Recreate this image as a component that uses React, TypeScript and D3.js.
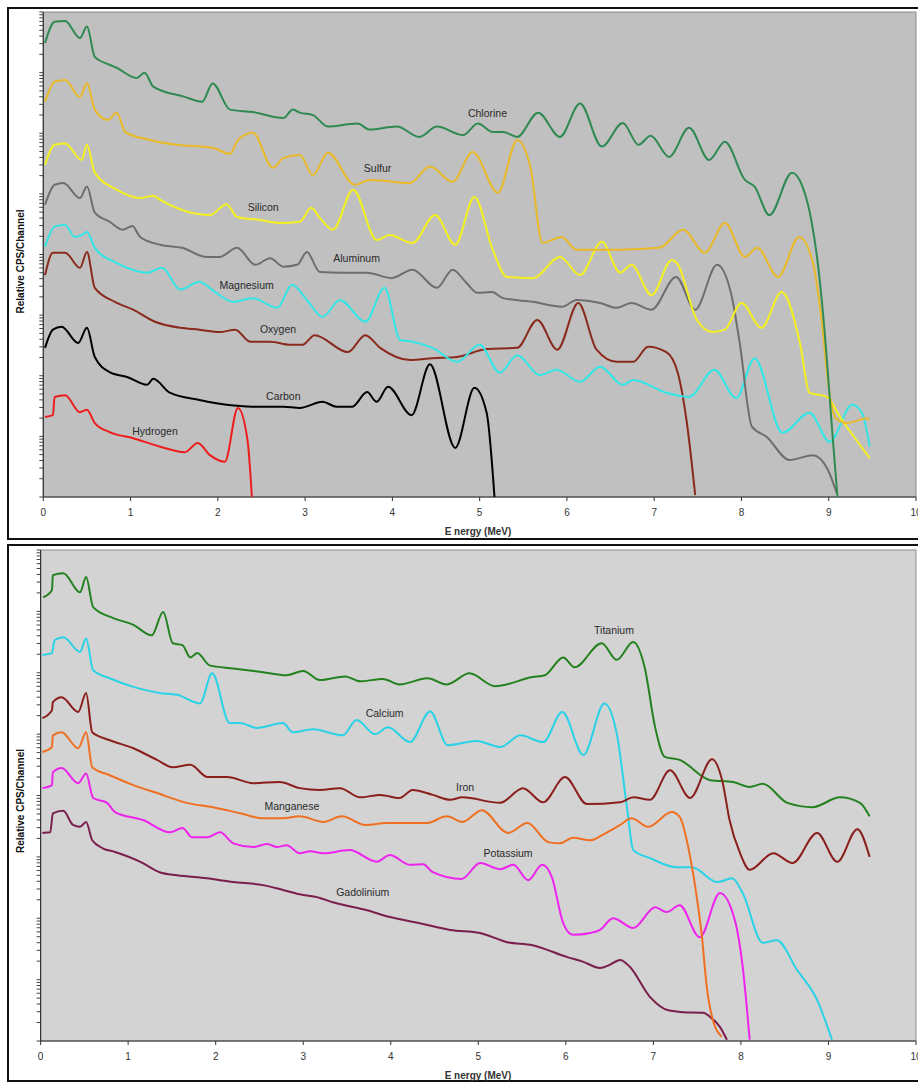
import React from "react";
import * as d3 from "d3";

// each point: [energy in MeV, log10 of relative CPS/channel]
type Pt = [number, number];

const energyTicks = [0, 1, 2, 3, 4, 5, 6, 7, 8, 9, 10];
const decades = [0, 1, 2, 3, 4, 5, 6, 7, 8];

// ---- upper panel ----
const chlorine: Pt[] = [[0.02,7.49],[0.13,7.84],[0.25,7.85],[0.42,7.57],[0.5,7.76],[0.59,7.26],[0.76,7.13],[0.84,7.08],[1.07,6.91],[1.16,7.0],[1.26,6.77],[1.62,6.6],[1.82,6.52],[1.94,6.82],[2.14,6.39],[2.4,6.35],[2.75,6.25],[2.86,6.39],[2.94,6.34],[3.09,6.3],[3.26,6.11],[3.6,6.16],[3.74,6.06],[4.05,6.11],[4.31,5.94],[4.51,6.11],[4.81,5.97],[4.98,6.16],[5.15,6.02],[5.27,6.02],[5.43,5.94],[5.67,6.34],[5.92,5.94],[6.15,6.49],[6.4,5.78],[6.64,6.17],[6.82,5.81],[6.96,5.96],[7.17,5.61],[7.4,6.09],[7.63,5.56],[7.81,5.86],[8.04,5.23],[8.15,5.12],[8.32,4.65],[8.58,5.35],[8.7,5.12],[8.8,4.57],[8.87,3.91],[8.97,2.43],[9.03,1.27],[9.1,0]];
const sulfur: Pt[] = [[0.02,6.52],[0.13,6.85],[0.25,6.88],[0.42,6.6],[0.5,6.83],[0.59,6.39],[0.74,6.22],[0.84,6.34],[0.94,6.02],[1.22,5.89],[1.53,5.81],[1.94,5.76],[2.14,5.66],[2.23,5.89],[2.4,6.01],[2.63,5.43],[2.75,5.59],[2.94,5.64],[3.09,5.31],[3.26,5.68],[3.57,5.15],[3.74,5.23],[4.2,5.18],[4.43,5.45],[4.69,5.2],[4.92,5.69],[5.21,5.02],[5.43,5.89],[5.58,5.45],[5.72,4.19],[5.94,4.29],[6.11,4.08],[6.61,4.08],[7.06,4.11],[7.33,4.41],[7.58,4.03],[7.81,4.52],[8.04,3.96],[8.18,4.11],[8.42,3.63],[8.66,4.29],[8.82,3.86],[8.92,2.9],[9.0,1.8],[9.08,1.3],[9.21,1.22],[9.44,1.3],[9.46,1.27]];
const silicon: Pt[] = [[0.02,5.48],[0.13,5.81],[0.25,5.83],[0.44,5.56],[0.5,5.81],[0.59,5.35],[0.84,5.07],[1.11,4.93],[1.26,4.97],[1.34,4.9],[1.91,4.65],[2.1,4.83],[2.22,4.62],[2.48,4.57],[2.71,4.52],[2.94,4.54],[3.07,4.77],[3.17,4.6],[3.32,4.41],[3.55,5.07],[3.82,4.24],[3.97,4.32],[4.23,4.19],[4.49,4.65],[4.72,4.16],[4.94,4.95],[5.15,4.08],[5.31,3.63],[5.61,3.61],[5.92,3.96],[6.15,3.66],[6.4,4.21],[6.61,3.7],[6.74,3.83],[6.97,3.33],[7.2,3.91],[7.26,3.86],[7.49,2.92],[7.67,2.72],[7.81,2.76],[8.0,3.2],[8.23,2.79],[8.46,3.38],[8.67,2.54],[8.78,1.72],[8.98,1.65],[9.13,1.32],[9.47,0.64]];
const aluminum: Pt[] = [[0.02,4.82],[0.13,5.15],[0.23,5.18],[0.42,4.93],[0.5,5.12],[0.59,4.69],[0.76,4.54],[0.91,4.41],[1.02,4.47],[1.11,4.29],[1.34,4.16],[1.59,4.11],[1.87,3.96],[2.02,3.96],[2.22,4.11],[2.43,3.83],[2.6,3.94],[2.75,3.8],[2.91,3.83],[3.02,4.04],[3.17,3.71],[3.43,3.7],[3.71,3.7],[3.99,3.61],[4.23,3.75],[4.51,3.45],[4.69,3.75],[4.85,3.53],[4.97,3.37],[5.14,3.38],[5.27,3.28],[5.61,3.22],[5.95,3.14],[6.11,3.25],[6.38,3.2],[6.57,3.12],[6.74,3.2],[6.97,3.09],[7.25,3.63],[7.47,3.09],[7.72,3.83],[7.89,3.3],[7.98,2.54],[8.12,1.16],[8.29,0.99],[8.55,0.61],[8.82,0.69],[8.99,0.45],[9.09,0.07]];
const magnesium: Pt[] = [[0.02,4.13],[0.13,4.46],[0.25,4.49],[0.36,4.29],[0.44,4.32],[0.5,4.37],[0.59,4.11],[0.84,3.86],[1.19,3.7],[1.36,3.78],[1.57,3.42],[1.79,3.55],[1.97,3.38],[2.17,3.22],[2.4,3.28],[2.68,3.12],[2.85,3.5],[3.02,3.25],[3.2,2.97],[3.4,3.25],[3.69,2.89],[3.91,3.45],[4.09,2.59],[4.23,2.56],[4.46,2.46],[4.74,2.23],[5.0,2.51],[5.23,2.05],[5.43,2.34],[5.69,2.01],[5.88,2.1],[6.15,1.9],[6.38,2.15],[6.64,1.85],[6.76,1.93],[7.14,1.72],[7.4,1.65],[7.69,2.1],[7.94,1.63],[8.15,2.29],[8.47,1.06],[8.78,1.39],[9.01,0.91],[9.27,1.52],[9.38,1.39],[9.47,0.83]];
const oxygen: Pt[] = [[0.02,3.66],[0.11,4.03],[0.25,4.03],[0.42,3.78],[0.5,4.04],[0.59,3.45],[0.82,3.22],[1.03,3.09],[1.28,2.89],[1.57,2.79],[1.79,2.76],[2.02,2.72],[2.2,2.76],[2.37,2.56],[2.6,2.56],[2.83,2.51],[2.97,2.51],[3.11,2.67],[3.49,2.39],[3.69,2.67],[3.86,2.46],[4.2,2.26],[4.46,2.29],[4.74,2.31],[5.08,2.44],[5.43,2.46],[5.66,2.92],[5.89,2.43],[6.13,3.2],[6.34,2.43],[6.57,2.23],[6.76,2.23],[6.93,2.48],[7.14,2.39],[7.27,2.05],[7.37,1.27],[7.47,0.03]];
const carbon: Pt[] = [[0.02,2.46],[0.11,2.76],[0.21,2.81],[0.4,2.54],[0.5,2.79],[0.59,2.31],[0.76,2.06],[0.96,1.98],[1.19,1.85],[1.26,1.95],[1.45,1.72],[1.79,1.6],[2.1,1.52],[2.4,1.49],[2.75,1.49],[2.94,1.47],[3.2,1.57],[3.36,1.49],[3.54,1.49],[3.71,1.73],[3.82,1.57],[3.95,1.82],[4.22,1.35],[4.43,2.19],[4.72,0.81],[4.94,1.8],[5.08,1.39],[5.17,0]];
const hydrogen: Pt[] = [[0.02,1.32],[0.11,1.35],[0.13,1.65],[0.25,1.68],[0.42,1.4],[0.5,1.44],[0.59,1.22],[0.76,1.07],[1.03,0.97],[1.34,0.83],[1.62,0.74],[1.77,0.89],[1.91,0.69],[2.08,0.58],[2.23,1.47],[2.34,0.94],[2.39,0]];

// ---- lower panel ----
const titanium: Pt[] = [[0.03,7.23],[0.13,7.35],[0.14,7.59],[0.26,7.62],[0.45,7.31],[0.52,7.56],[0.6,7.07],[0.83,6.89],[1.06,6.78],[1.27,6.61],[1.4,6.99],[1.51,6.48],[1.62,6.45],[1.71,6.25],[1.79,6.32],[1.93,6.12],[2.2,6.07],[2.54,6.01],[2.81,5.96],[3.0,6.03],[3.19,5.88],[3.48,5.94],[3.65,5.86],[3.91,5.9],[4.1,5.81],[4.42,5.91],[4.64,5.81],[4.9,5.99],[5.19,5.78],[5.62,5.93],[5.76,5.96],[5.97,6.25],[6.1,6.09],[6.41,6.48],[6.58,6.21],[6.77,6.5],[6.9,6.09],[7.02,5.11],[7.13,4.63],[7.3,4.58],[7.65,4.25],[7.91,4.22],[8.1,4.14],[8.25,4.19],[8.53,3.88],[8.82,3.81],[9.13,3.97],[9.36,3.88],[9.47,3.66]];
const calcium: Pt[] = [[0.02,6.29],[0.13,6.32],[0.16,6.53],[0.26,6.58],[0.45,6.34],[0.52,6.56],[0.6,6.04],[0.79,5.91],[1.06,5.77],[1.36,5.67],[1.56,5.64],[1.82,5.5],[1.96,5.99],[2.16,5.18],[2.28,5.18],[2.47,5.1],[2.77,5.18],[2.88,5.03],[3.11,5.08],[3.45,4.98],[3.61,5.23],[3.82,5.0],[3.97,5.11],[4.22,4.87],[4.45,5.37],[4.65,4.82],[4.98,4.89],[5.25,4.79],[5.48,4.98],[5.74,4.87],[5.96,5.36],[6.2,4.66],[6.44,5.5],[6.58,5.02],[6.7,3.79],[6.77,3.11],[6.96,2.98],[7.27,2.83],[7.44,2.83],[7.73,2.59],[7.9,2.65],[8.02,2.41],[8.25,1.6],[8.41,1.64],[8.64,1.16],[8.87,0.67],[9.04,0.02]];
const iron: Pt[] = [[0.02,5.26],[0.13,5.39],[0.14,5.52],[0.24,5.6],[0.43,5.36],[0.52,5.67],[0.59,5.03],[0.79,4.9],[1.06,4.77],[1.33,4.58],[1.51,4.46],[1.71,4.5],[1.91,4.3],[2.13,4.3],[2.43,4.2],[2.73,4.22],[2.96,4.12],[3.19,4.09],[3.42,4.12],[3.65,3.97],[3.88,4.01],[4.1,3.96],[4.25,4.09],[4.48,4.01],[4.68,3.93],[4.82,3.97],[5.25,3.88],[5.51,4.12],[5.74,3.89],[5.99,4.3],[6.24,3.86],[6.62,3.89],[6.77,3.97],[6.96,3.93],[7.19,4.41],[7.42,3.96],[7.67,4.59],[7.79,4.22],[7.87,3.6],[7.99,3.06],[8.1,2.79],[8.37,3.06],[8.59,2.9],[8.87,3.39],[9.1,2.92],[9.33,3.45],[9.47,3.0]];
const manganese: Pt[] = [[0.02,4.71],[0.13,4.79],[0.14,4.98],[0.24,5.03],[0.43,4.77],[0.52,5.03],[0.59,4.46],[0.79,4.33],[1.06,4.17],[1.33,4.04],[1.67,3.88],[1.97,3.81],[2.28,3.71],[2.54,3.63],[2.77,3.63],[2.96,3.66],[3.23,3.57],[3.44,3.66],[3.71,3.52],[3.96,3.55],[4.41,3.55],[4.64,3.66],[4.82,3.57],[5.04,3.76],[5.34,3.39],[5.56,3.55],[5.8,3.24],[5.93,3.22],[6.08,3.31],[6.28,3.27],[6.42,3.36],[6.62,3.52],[6.75,3.63],[6.94,3.49],[7.21,3.73],[7.3,3.65],[7.42,3.0],[7.5,2.3],[7.55,1.76],[7.61,0.88],[7.67,0.39],[7.78,0.07]];
const potassium: Pt[] = [[0.02,4.12],[0.13,4.17],[0.14,4.38],[0.24,4.45],[0.43,4.2],[0.52,4.36],[0.6,3.96],[0.76,3.88],[0.85,3.73],[1.17,3.6],[1.48,3.4],[1.62,3.47],[1.73,3.32],[1.9,3.32],[2.05,3.4],[2.2,3.22],[2.43,3.16],[2.59,3.21],[2.7,3.16],[2.81,3.19],[2.96,3.06],[3.08,3.09],[3.23,3.06],[3.53,3.11],[3.84,2.92],[3.99,3.03],[4.22,2.87],[4.37,2.88],[4.48,2.75],[4.81,2.64],[5.02,2.9],[5.25,2.8],[5.4,2.87],[5.57,2.62],[5.73,2.87],[5.84,2.67],[5.97,1.92],[6.08,1.73],[6.28,1.76],[6.39,1.81],[6.54,2.0],[6.77,1.84],[7.02,2.18],[7.15,2.1],[7.3,2.21],[7.53,1.69],[7.76,2.41],[7.93,1.97],[8.02,1.21],[8.1,0.02]];
const gadolinium: Pt[] = [[0.02,3.39],[0.11,3.4],[0.14,3.71],[0.26,3.75],[0.37,3.52],[0.45,3.49],[0.52,3.57],[0.59,3.27],[0.71,3.14],[0.85,3.08],[1.14,2.92],[1.36,2.75],[1.56,2.7],[1.9,2.65],[2.2,2.59],[2.54,2.54],[2.77,2.46],[2.96,2.39],[3.19,2.33],[3.34,2.26],[3.73,2.13],[3.99,2.02],[4.33,1.92],[4.68,1.81],[5.02,1.76],[5.33,1.61],[5.62,1.56],[6.01,1.37],[6.2,1.29],[6.39,1.19],[6.5,1.24],[6.62,1.32],[6.73,1.21],[6.96,0.72],[7.17,0.5],[7.34,0.47],[7.57,0.46],[7.65,0.39],[7.76,0.23],[7.84,0.02]];

type Series = { name: string; color: string; data: Pt[]; label: Pt };

const topSeries: Series[] = [
  { name: "Hydrogen", color: "#ee1d1d", data: hydrogen, label: [1.28, 1.09] },
  { name: "Carbon", color: "#000000", data: carbon, label: [2.75, 1.67] },
  { name: "Oxygen", color: "#8a2a1c", data: oxygen, label: [2.69, 2.77] },
  { name: "Magnesium", color: "#33e6e6", data: magnesium, label: [2.33, 3.5] },
  { name: "Aluminum", color: "#6e6e6e", data: aluminum, label: [3.59, 3.94] },
  { name: "Silicon", color: "#f4f020", data: silicon, label: [2.52, 4.79] },
  { name: "Sulfur", color: "#e9b928", data: sulfur, label: [3.83, 5.43] },
  { name: "Chlorine", color: "#2e8a52", data: chlorine, label: [5.09, 6.34] },
];

const bottomSeries: Series[] = [
  { name: "Gadolinium", color: "#7a1f4c", data: gadolinium, label: [3.68, 2.43] },
  { name: "Potassium", color: "#ee24ee", data: potassium, label: [5.34, 3.06] },
  { name: "Calcium", color: "#2ad2e6", data: calcium, label: [3.93, 5.34] },
  { name: "Titanium", color: "#23821f", data: titanium, label: [6.55, 6.69] },
  { name: "Iron", color: "#8a1f1c", data: iron, label: [4.85, 4.14] },
  { name: "Manganese", color: "#f07022", data: manganese, label: [2.87, 3.83] },
];

const FONT = "Arial, 'Liberation Sans', sans-serif";

type PanelProps = {
  id: string;
  frame: { top: number; bottom: number };
  plot: { left: number; right: number; top: number; bottom: number };
  bg: string;
  series: Series[];
};

function Panel({ id, frame, plot, bg, series }: PanelProps) {
  const x = d3.scaleLinear().domain([0, 10]).range([plot.left, plot.right]);
  const y = d3.scaleLinear().domain([0, 8]).range([plot.bottom, plot.top]);
  const line = d3
    .line<Pt>()
    .x((d) => x(d[0]))
    .y((d) => y(d[1]))
    .curve(d3.curveMonotoneX);

  // log minor ticks: 1..9 within every decade
  const yTicks = decades
    .slice(0, -1)
    .flatMap((d) => d3.range(1, 10).map((k) => d + Math.log10(k)))
    .concat([decades[decades.length - 1]]);

  const midY = (frame.top + frame.bottom) / 2 - 12;

  return (
    <g>
      <rect x={8} y={frame.top} width={930} height={frame.bottom - frame.top} fill="#fff" stroke="#111" strokeWidth={2} />
      <defs>
        <clipPath id={id}>
          <rect x={plot.left} y={plot.top - 2} width={plot.right - plot.left} height={plot.bottom - plot.top + 2} />
        </clipPath>
      </defs>
      <rect x={plot.left} y={plot.top} width={plot.right - plot.left} height={plot.bottom - plot.top} fill={bg} stroke="#8c8c8c" strokeWidth={1} />

      {/* y axis */}
      <line x1={plot.left} x2={plot.left} y1={plot.top} y2={plot.bottom} stroke="#333" strokeWidth={1.2} />
      {yTicks.map((t, i) => (
        <line key={i} x1={plot.left - 4} x2={plot.left} y1={y(t)} y2={y(t)} stroke="#444" strokeWidth={1} />
      ))}

      {/* x axis */}
      <line x1={plot.left} x2={plot.right} y1={plot.bottom} y2={plot.bottom} stroke="#333" strokeWidth={1.2} />
      {energyTicks.map((t) => (
        <g key={t}>
          <line x1={x(t)} x2={x(t)} y1={plot.bottom} y2={plot.bottom + 4} stroke="#333" />
          <text x={x(t)} y={plot.bottom + 19} textAnchor="middle" fontSize={10} fill="#333" fontFamily={FONT}>
            {t}
          </text>
        </g>
      ))}
      <text x={478} y={plot.bottom + 38} textAnchor="middle" fontSize={10} fontWeight="bold" fill="#333" fontFamily={FONT}>
        E nergy (MeV)
      </text>
      <text
        transform={`translate(24, ${midY}) rotate(-90)`}
        textAnchor="middle"
        fontSize={10}
        fontWeight="bold"
        fill="#111"
        fontFamily={FONT}
      >
        Relative CPS/Channel
      </text>

      <g clipPath={`url(#${id})`}>
        {series.map((s) => (
          <path key={s.name} d={line(s.data) || ""} fill="none" stroke={s.color} strokeWidth={2} strokeLinejoin="round" />
        ))}
      </g>
      {series.map((s) => (
        <text key={s.name} x={x(s.label[0])} y={y(s.label[1]) + 4} textAnchor="middle" fontSize={10.5} fill="#2a2a2a" fontFamily={FONT}>
          {s.name}
        </text>
      ))}
    </g>
  );
}

export default function App() {
  return (
    <div style={{ position: "absolute", left: 0, top: 0 }}>
      <svg width={918} height={1083} style={{ display: "block", background: "#fff" }}>
        <Panel
          id="clipTop"
          frame={{ top: 8, bottom: 539 }}
          plot={{ left: 43.3, right: 916, top: 12, bottom: 497 }}
          bg="#c0c0c0"
          series={topSeries}
        />
        <Panel
          id="clipBottom"
          frame={{ top: 545, bottom: 1081 }}
          plot={{ left: 40.6, right: 916, top: 550, bottom: 1041 }}
          bg="#d3d3d3"
          series={bottomSeries}
        />
      </svg>
    </div>
  );
}
